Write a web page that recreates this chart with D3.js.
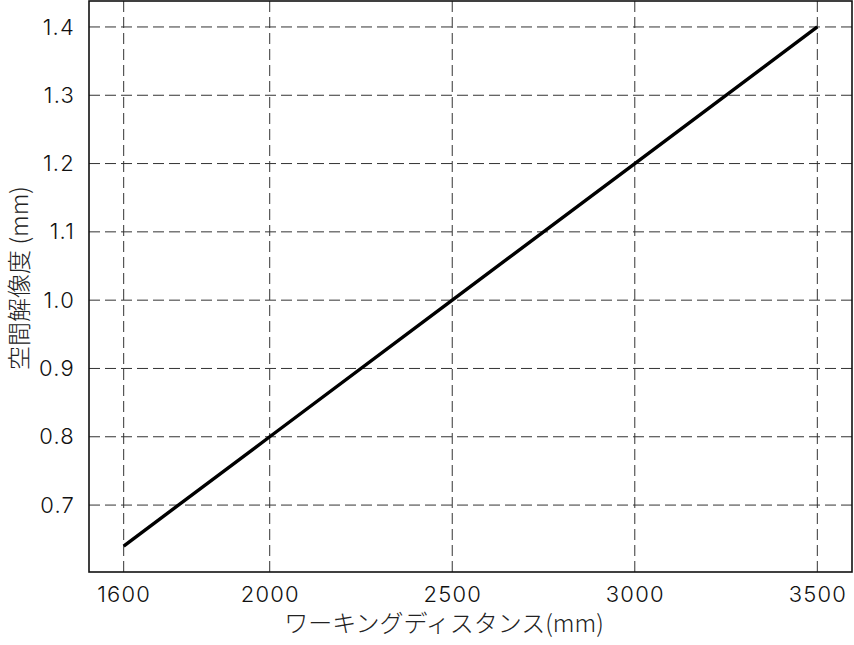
<!DOCTYPE html>
<meta charset="utf-8">
<style>
body { margin: 0; background: #fff; }
.tick text { font-family: Inter, "Noto Sans", sans-serif; font-size: 22px; font-weight: 300; letter-spacing: 1.2px; fill: #111; }
.label { font-family: "Noto Sans CJK JP", sans-serif; font-size: 24px; font-weight: 300; fill: #222; }
.grid line { stroke: #333; stroke-width: 1px; stroke-dasharray: 11,5; }
</style>
<body>
<script src="https://d3js.org/d3.v7.min.js"></script>
<script>

const distance = [1600, 2000, 2500, 3000, 3500];
const resolution = [0.64, 0.80, 1.00, 1.20, 1.40];
const xTicks = [1600, 2000, 2500, 3000, 3500];
const yTicks = [0.7, 0.8, 0.9, 1.0, 1.1, 1.2, 1.3, 1.4];

const width = 854, height = 645;
const margin = {top: 1, right: 2, bottom: 73, left: 89};
const innerWidth = width - margin.left - margin.right;
const innerHeight = height - margin.top - margin.bottom;

const x = d3.scaleLinear().domain([1505, 3595]).range([0, innerWidth]);
const y = d3.scaleLinear().domain([0.602, 1.438]).range([innerHeight, 0]);

const svg = d3.select("body").append("svg")
    .attr("width", width)
    .attr("height", height);

const g = svg.append("g")
    .attr("transform", `translate(${margin.left},${margin.top})`);

// grid
g.append("g").attr("class", "grid")
  .selectAll("line").data(xTicks).join("line")
    .attr("x1", d => x(d)).attr("x2", d => x(d))
    .attr("y1", 0).attr("y2", innerHeight);

g.append("g").attr("class", "grid")
  .selectAll("line").data(yTicks).join("line")
    .attr("x1", 0).attr("x2", innerWidth)
    .attr("y1", d => y(d)).attr("y2", d => y(d));

// axes (labels only)
g.append("g")
    .attr("transform", `translate(0,${innerHeight})`)
    .call(d3.axisBottom(x).tickValues(xTicks).tickSize(0).tickPadding(14).tickFormat(d3.format("d")))
    .call(a => a.select(".domain").remove());

g.append("g")
    .call(d3.axisLeft(y).tickValues(yTicks).tickSize(0).tickPadding(14).tickFormat(d3.format(".1f")))
    .call(a => a.select(".domain").remove());

// frame
g.append("rect")
    .attr("x", 0).attr("y", 0)
    .attr("width", innerWidth).attr("height", innerHeight)
    .attr("fill", "none").attr("stroke", "#111").attr("stroke-width", 1.6);

// data line
const line = d3.line().x((d, i) => x(distance[i])).y(d => y(d));
g.append("path")
    .datum(resolution)
    .attr("d", line)
    .attr("fill", "none")
    .attr("stroke", "#000")
    .attr("stroke-width", 3.4);

// axis titles
svg.append("text").attr("class", "label")
    .attr("x", 444).attr("y", 632)
    .attr("text-anchor", "middle")
    .text("ワーキングディスタンス(mm)");

svg.append("text").attr("class", "label")
    .attr("transform", "translate(28,278) rotate(-90)")
    .attr("text-anchor", "middle")
    .text("空間解像度 (mm)");

</script>
